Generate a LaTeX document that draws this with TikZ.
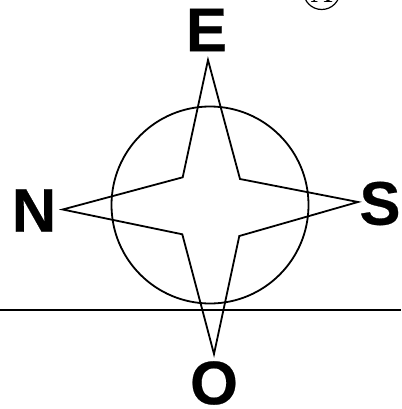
\documentclass[tikz,border=0pt]{standalone}
\usepackage{fontspec}
\setmainfont[BoldFeatures={FakeBold=0.4}]{Liberation Sans}
\newfontfamily\serifletter{Liberation Serif}
\tikzset{
  px/.style={x=1pt,y=-1pt},
  cardinal/.style={inner sep=0pt,font=\fontsize{61.5}{61.5}\selectfont\bfseries},
  stroke/.style={draw=black,line width=1.8pt,line join=miter},
}
\begin{document}
\begin{tikzpicture}[px]
\useasboundingbox (0,0) rectangle (401,409);
\clip (0,0) rectangle (401,409);
\draw[stroke] (210,205) circle[radius=98.5pt];
\draw[stroke] (208,60) -- (240,179) -- (358,202) -- (239.3,236) -- (214,354) -- (182.3,234.3) -- (62.7,209.5) -- (182.7,177.3) -- cycle;
\coordinate (lineL) at (0,310);
\coordinate (lineR) at (401,310);
\draw[stroke] (lineL) -- (lineR);
\node[cardinal] (e) at (206.5,30) {E};
\node[cardinal] (n) at (34,210.5) {N};
\node[cardinal] (s) at (380,203.5) {S};
\node[cardinal] (o) at (214,383) {O};
\draw[draw=black,line width=1.2pt] (321.7,-8.7) circle[radius=18.2pt];
\node[inner sep=0pt,anchor=base,font=\serifletter\fontsize{30}{30}\selectfont] (h) at (321.7,2.5) {A};
\end{tikzpicture}
\end{document}
